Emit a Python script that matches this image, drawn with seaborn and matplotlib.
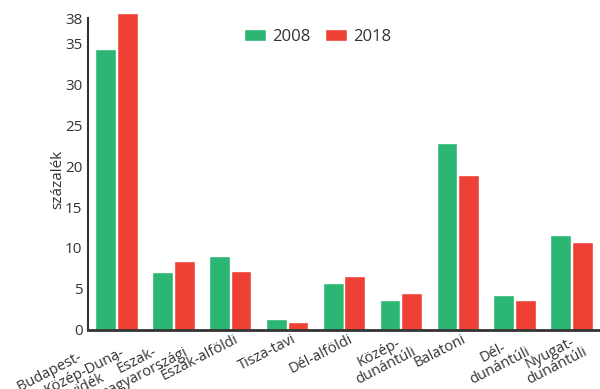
import pandas as pd
import numpy as np
import matplotlib.pyplot as plt
import matplotlib.transforms as mtransforms
import seaborn as sns

regions = ["Budapest-\nKözép-Duna-\nvidék", "Észak-\nmagyarországi", "Észak-alföldi",
           "Tisza-tavi", "Dél-alföldi", "Közép-\ndunántúli", "Balatoni",
           "Dél-\ndunántúli", "Nyugat-\ndunántúli"]
years = ["2008", "2018"]
v2008 = [34.3, 7.1, 9.0, 1.4, 5.7, 3.7, 22.8, 4.3, 11.6]
v2018 = [38.7, 8.4, 7.2, 1.0, 6.6, 4.5, 18.9, 3.7, 10.7]
yticks = [0, 5, 10, 15, 20, 25, 30, 35, 38]

df = pd.DataFrame({"region": regions * 2,
                   "year": [years[0]] * len(regions) + [years[1]] * len(regions),
                   "value": v2008 + v2018})

sns.set_style("white")
plt.rcParams['font.family'] = ['Open Sans', 'DejaVu Sans']

fig = plt.figure(figsize=(6, 3.89), dpi=100)
ax = fig.add_axes([0.1467, 0.1517, 0.8533, 0.822])

sns.barplot(data=df, x="region", y="value", hue="year",
            palette=["#2bb673", "#ef4036"], width=0.76, gap=0.04,
            saturation=1, ax=ax)

ax.set_xlim(-0.5, 8.5)
ax.set_ylim(0, 39)
ax.set_yticks(yticks)
ax.set_yticklabels([str(t) for t in yticks], fontsize=11, color="#333333")
ax.tick_params(axis="y", length=0, pad=4)
ax.set_yticks([35, 38], minor=True)
ax.tick_params(axis="y", which="minor", direction="in", length=9, width=1.5, color="#333333")
ax.tick_params(axis="x", length=0, pad=1)
ax.set_xticks(range(len(regions)))

# first label in the reference has its lines staggered; pad with spaces
labels = list(regions)
labels[0] = "Budapest-" + " " * 11 + "\nKözép-Duna-\nvidék" + " " * 8
ax.set_xticklabels(labels, rotation=27, ha="right", va="top", rotation_mode="anchor",
                   fontsize=10.5, color="#333333", multialignment="center",
                   linespacing=0.95)
ax.get_xticklabels()[0].set_multialignment("right")
for i, lab in enumerate(ax.get_xticklabels()):
    dx = -2 if i == 0 else 3
    shift = mtransforms.ScaledTranslation(dx / 72, 0, fig.dpi_scale_trans)
    lab.set_transform(lab.get_transform() + shift)

ax.set_xlabel("")
ax.set_ylabel("százalék", fontsize=11, color="#333333", labelpad=0)
ax.yaxis.set_label_coords(-0.045, 0.47)

sns.despine(ax=ax)
ax.spines["left"].set_bounds(0, 38)
ax.spines["left"].set_color("#333333")
ax.spines["left"].set_linewidth(1.5)
ax.spines["bottom"].set_color("#333333")
ax.spines["bottom"].set_linewidth(2)

ax.legend(loc="center", bbox_to_anchor=(0.449, 0.917), ncol=2, frameon=False,
          fontsize=12, handlelength=1.3, handleheight=0.8, columnspacing=0.85,
          handletextpad=0.4, labelcolor="#333333")

for p in ax.patches:
    p.set_clip_on(False)

fig.savefig("out.png", dpi=100)
